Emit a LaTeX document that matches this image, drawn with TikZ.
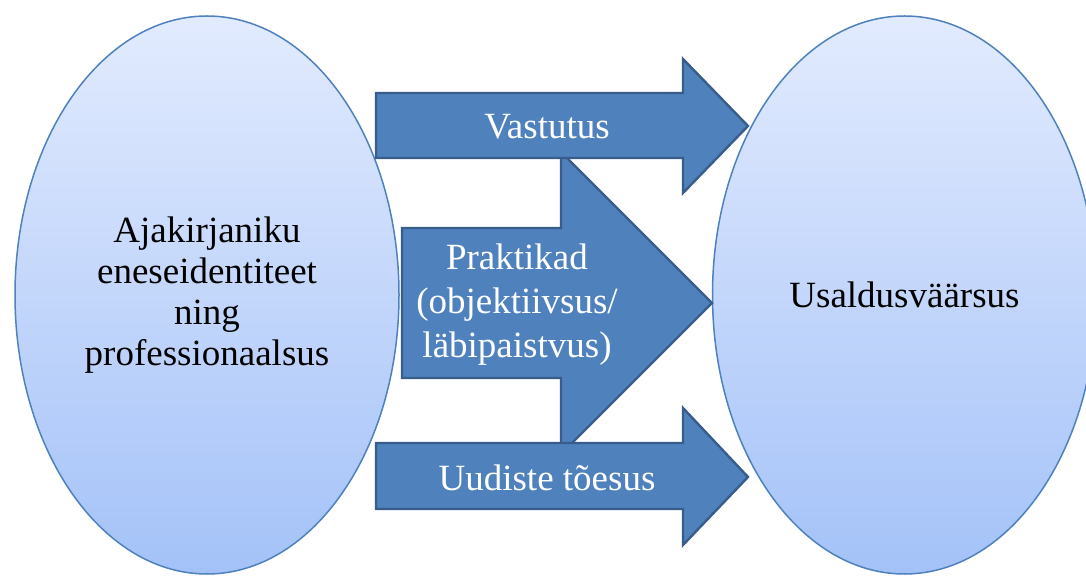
\documentclass[tikz,border=0pt]{standalone}
\usepackage{fontspec}
\setmainfont{Liberation Serif}
\usepackage{tikz}
\usetikzlibrary{shapes,positioning}
\definecolor{bordblue}{RGB}{79,129,189}
\definecolor{topblue}{RGB}{226,235,254}
\definecolor{botblue}{RGB}{164,194,248}
\definecolor{arrblue}{RGB}{79,129,189}
\definecolor{arrborder}{RGB}{56,93,138}
\tikzstyle{bubble}=[ellipse,draw=bordblue,line width=0.75pt,top color=topblue,
bottom color=botblue,minimum width=192pt,minimum height=279pt,inner sep=0pt,
align=center,font=\fontsize{18.5}{20.5}\selectfont]
\tikzstyle{blockarrow}=[fill=arrblue,draw=arrborder,line width=1.2pt,line join=miter]
\tikzstyle{arrowtext}=[text=white,align=center,font=\fontsize{18.5}{22}\selectfont]

\begin{document}
\begin{tikzpicture}[x=0.5pt,y=-0.5pt]
            \useasboundingbox (0,0) rectangle (1086,576);

            % ELLIPSES

            \node[bubble] (ident) at (207,295) {Ajakirjaniku\\eneseidentiteet\\ning\\professionaalsus};
            \node[bubble, right=156pt of ident] (usald) {Usaldusväärsus};

            % MIDDLE ARROW (under the others)

            \draw[blockarrow] (402,228) -- (561,228) -- (561,152) -- (712,303)
                -- (561,454) -- (561,378) -- (402,378) -- cycle;
            \node[arrowtext] (prakt) at (517,305) {Praktikad\\(objektiivsus/\\läbipaistvus)};

            % TOP AND BOTTOM ARROWS

            \draw[blockarrow] (376,93) -- (683,93) -- (683,59) -- (748,126)
                -- (683,193) -- (683,158) -- (376,158) -- cycle;
            \node[arrowtext] (vast) at (547,127) {Vastutus};

            \draw[blockarrow] (376,443) -- (683,443) -- (683,408) -- (748,477)
                -- (683,545) -- (683,509) -- (376,509) -- cycle;
            \node[arrowtext] (uudis) at (547,478) {Uudiste tõesus};

\end{tikzpicture}
\end{document}
